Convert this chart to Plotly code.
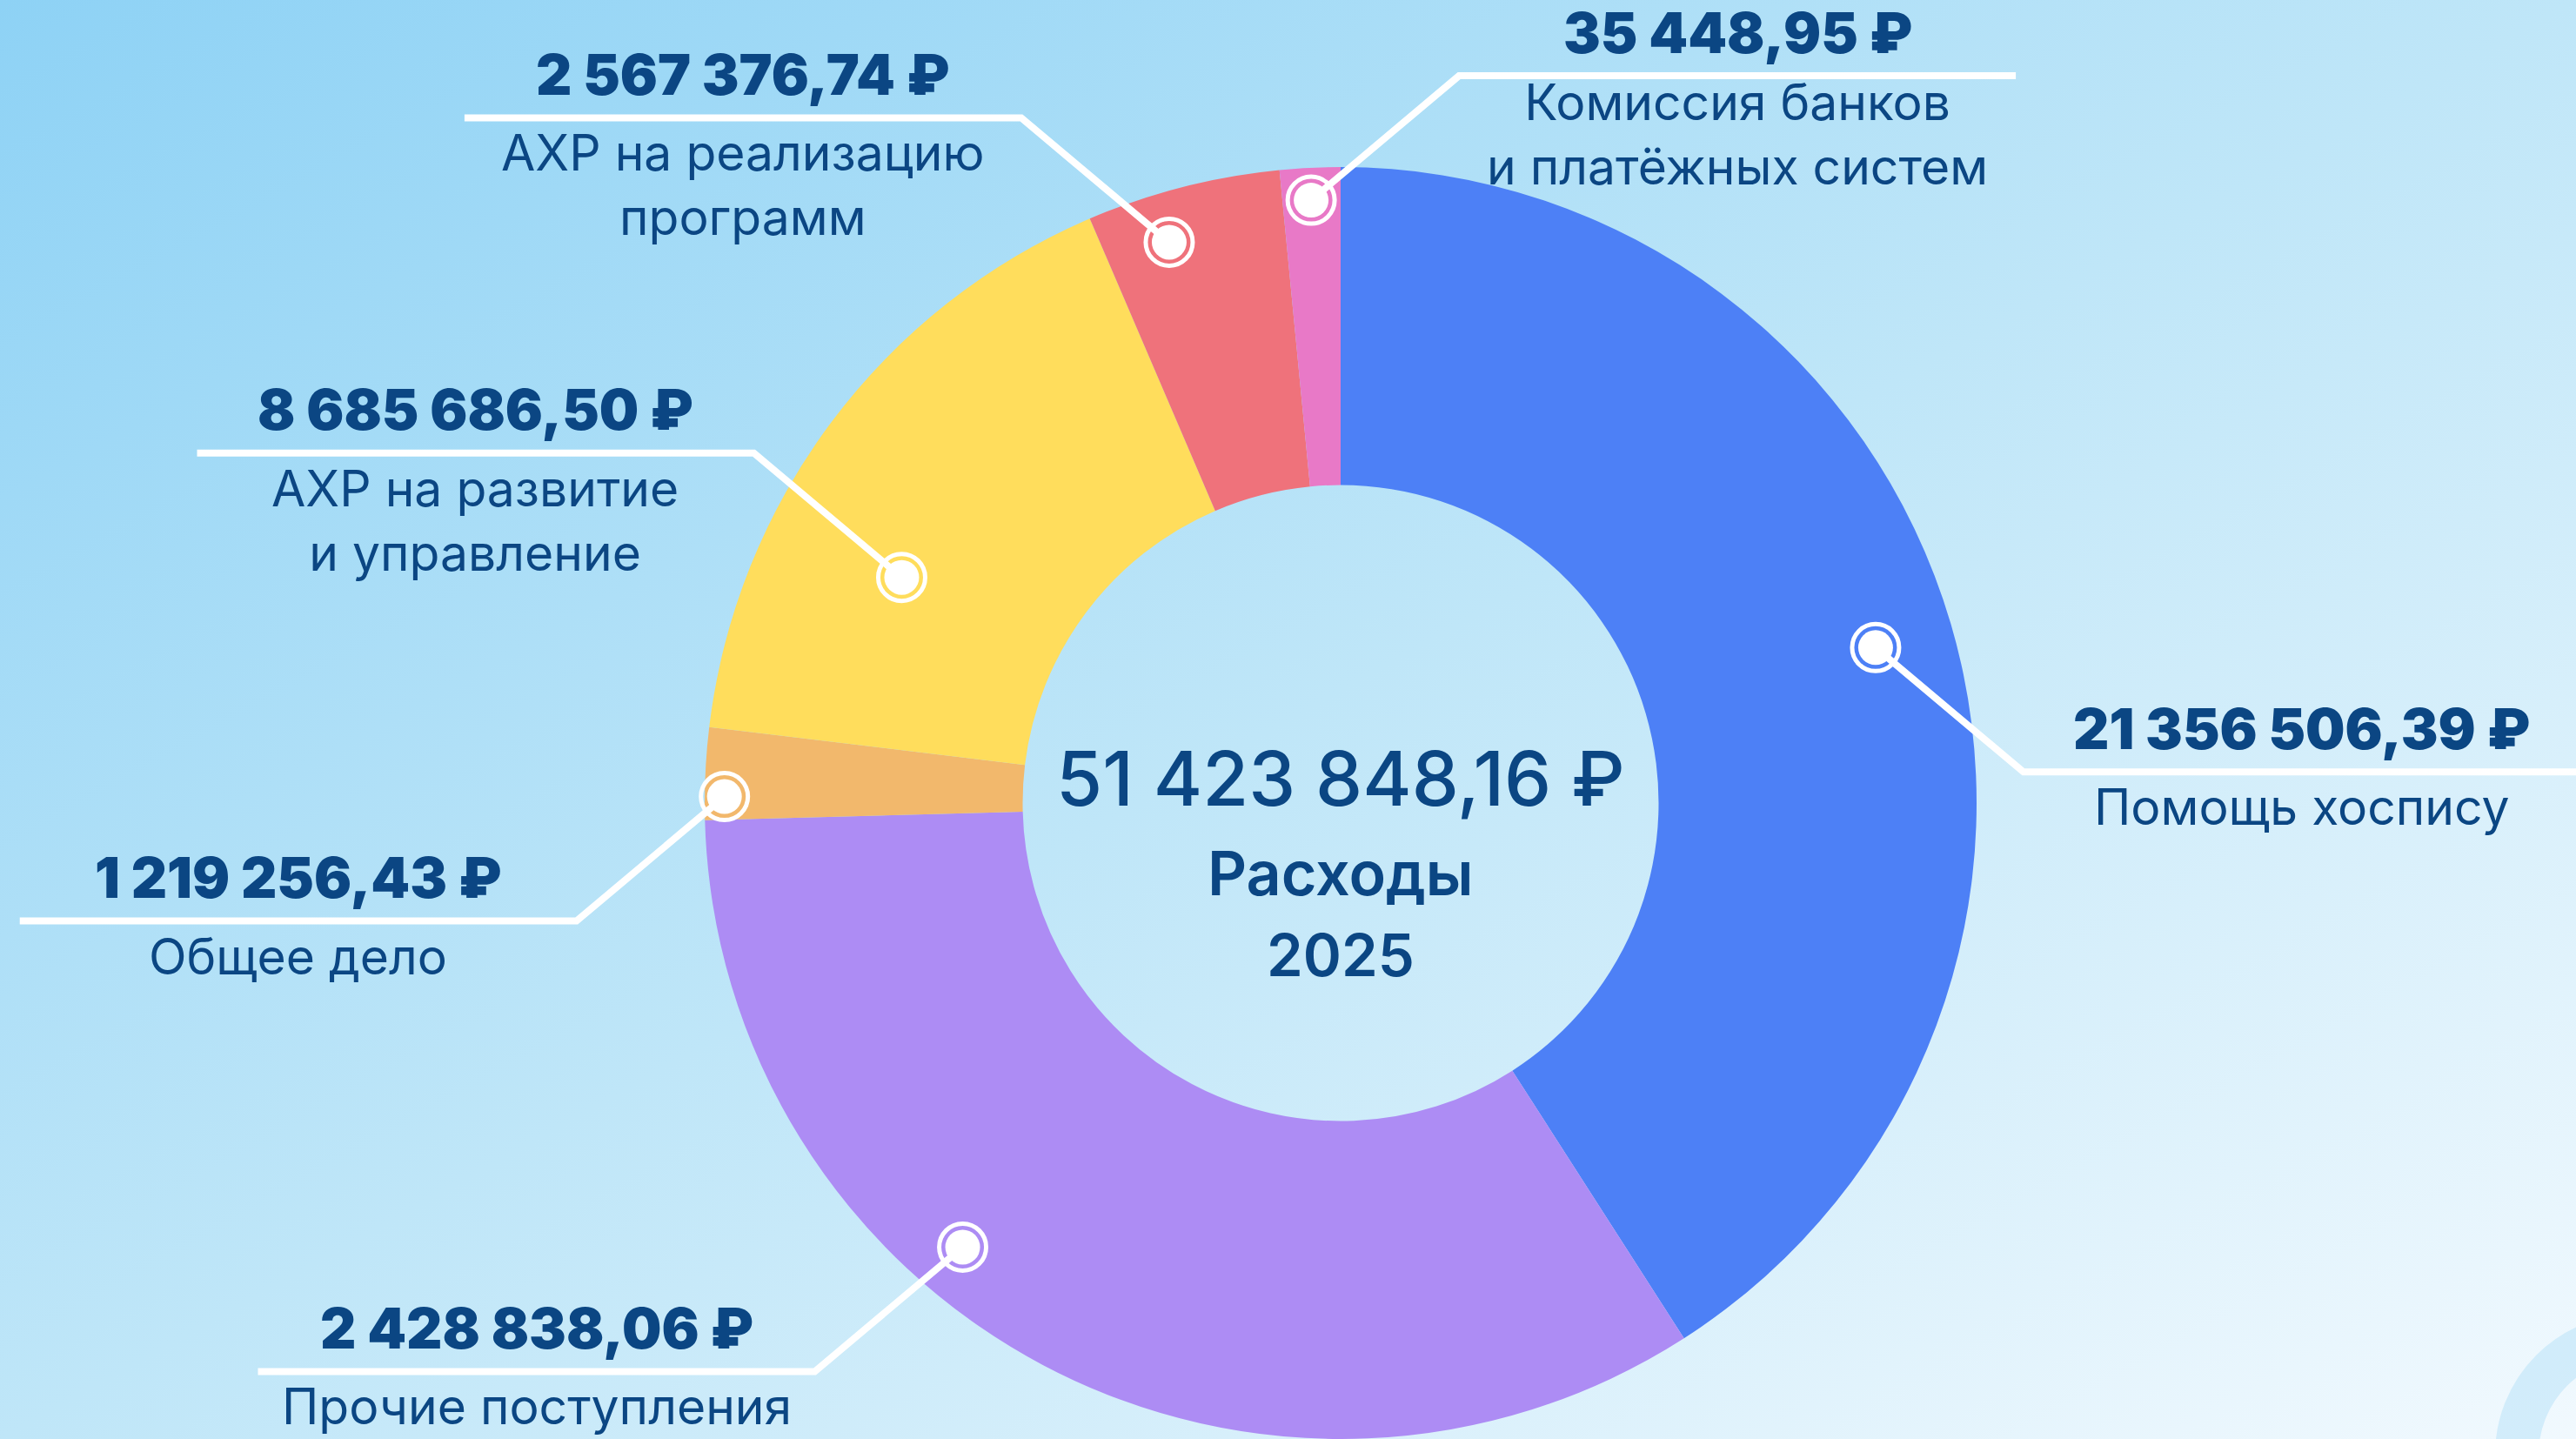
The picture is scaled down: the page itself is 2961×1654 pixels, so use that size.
import math
import base64
import plotly.graph_objects as go

# ---------------- data ----------------
categories = [
    "Помощь хоспису",
    "Прочие поступления",
    "Общее дело",
    "АХР на развитие<br>и управление",
    "АХР на реализацию<br>программ",
    "Комиссия банков<br>и платёжных систем",
]
label_amounts = [21356506.39, 2428838.06, 1219256.43, 8685686.50, 2567376.74, 35448.95]
# slice sizes as drawn in the picture (purple = remainder of total, pink enlarged for visibility)
slice_values = [21356506.39, 17559573.15, 1219256.43, 8685686.50, 2567376.74, 800000.0]
total_amount = 51423848.16
center_title = "Расходы"
center_year = "2025"

# ---------------- style ----------------
colors = ["#4d80f6", "#ad8cf4", "#f2b86c", "#ffdd5c", "#ef727b", "#e879c7"]
TEXT = "#0b4683"
FONT = "Inter, Roboto, 'Open Sans', sans-serif"
W, H = 2961, 1654
R = 731
CX, CY = 1541, H - R

# leader anchors: angle (deg clockwise from top), radius fraction, horizontal side, vertical side
leaders = [
    (73.8, 0.876, 1, 1),
    (220.4, 0.917, -1, 1),
    (270.6, 0.969, -1, 1),
    (297.2, 0.776, -1, -1),
    (343.0, 0.922, -1, -1),
    (357.2, 0.949, 1, -1),
]
DIAG_X, DIAG_Y, SEG = 170, 143, 640


def fmt(v):
    s = f"{v:,.2f}".replace(",", " ").replace(".", ",")
    return s + " ₽"


svg = f"""<svg xmlns='http://www.w3.org/2000/svg' width='{W}' height='{H}' viewBox='0 0 {W} {H}'>
<defs><linearGradient id='g' x1='0' y1='0' x2='1' y2='1'>
<stop offset='0' stop-color='#8ed2f5'/>
<stop offset='0.5' stop-color='#bfe6f8'/>
<stop offset='1' stop-color='#f1f9fe'/>
</linearGradient></defs>
<rect width='{W}' height='{H}' fill='url(#g)'/>
</svg>"""
bg_src = "data:image/svg+xml;base64," + base64.b64encode(svg.encode("utf-8")).decode("ascii")

fig = go.Figure()
fig.add_trace(go.Pie(
    labels=[c.replace("<br>", " ") for c in categories],
    values=slice_values,
    hole=0.5,
    sort=False,
    direction="clockwise",
    rotation=0,
    marker=dict(colors=colors, line=dict(width=0)),
    textinfo="none",
    hoverinfo="label+value",
    showlegend=False,
    domain=dict(x=[(CX - R) / W, (CX + R) / W], y=[0, 2 * R / H]),
))
# invisible trace to create a pixel-space cartesian frame for leader shapes
fig.add_trace(go.Scatter(x=[0, W], y=[0, H], mode="markers", marker=dict(opacity=0),
                         hoverinfo="skip", showlegend=False))

shapes = []
annotations = []
for i, (ang, rf, sx, sy) in enumerate(leaders):
    a = math.radians(ang)
    x0 = CX + rf * R * math.sin(a)
    y0 = CY - rf * R * math.cos(a)
    x1 = x0 + sx * DIAG_X
    y1 = y0 + sy * DIAG_Y
    x2 = x1 + sx * SEG
    shapes.append(dict(type="path", xref="x", yref="y", layer="above",
                       path=f"M {x0:.1f},{y0:.1f} L {x1:.1f},{y1:.1f} L {x2:.1f},{y1:.1f}",
                       line=dict(color="white", width=8)))
    shapes.append(dict(type="circle", xref="x", yref="y", layer="above",
                       x0=x0 - 27, x1=x0 + 27, y0=y0 - 27, y1=y0 + 27,
                       line=dict(color="white", width=5)))
    shapes.append(dict(type="circle", xref="x", yref="y", layer="above",
                       x0=x0 - 20, x1=x0 + 20, y0=y0 - 20, y1=y0 + 20,
                       fillcolor="white", line=dict(color="white", width=0)))
    mx = (x1 + x2) / 2
    cat_gap = -6 if sy < 0 and sx > 0 else 4
    annotations.append(dict(x=mx, y=y1 - 50, xref="x", yref="y", text=fmt(label_amounts[i]),
                            showarrow=False, xanchor="center", yanchor="middle",
                            font=dict(family=FONT, size=64, color=TEXT, weight=900)))
    annotations.append(dict(x=mx, y=y1 + cat_gap, xref="x", yref="y", text=categories[i],
                            showarrow=False, xanchor="center", yanchor="top",
                            font=dict(family=FONT, size=57, color=TEXT, weight=400)))

# decorative faint ring in the corner
shapes.append(dict(type="circle", xref="x", yref="y", layer="below",
                   x0=3030 - 137, x1=3030 + 137, y0=1672 - 137, y1=1672 + 137,
                   line=dict(color="rgba(190,228,248,0.6)", width=50)))

annotations.append(dict(x=CX, y=CY - 28, xref="x", yref="y", text=fmt(total_amount),
                        showarrow=False, xanchor="center", yanchor="middle",
                        font=dict(family=FONT, size=86, color=TEXT, weight=500)))
annotations.append(dict(x=CX, y=CY + 80, xref="x", yref="y", text=center_title,
                        showarrow=False, xanchor="center", yanchor="middle",
                        font=dict(family=FONT, size=70, color=TEXT, weight=600)))
annotations.append(dict(x=CX, y=CY + 174, xref="x", yref="y", text=center_year,
                        showarrow=False, xanchor="center", yanchor="middle",
                        font=dict(family=FONT, size=67, color=TEXT, weight=600)))

fig.update_layout(
    width=W, height=H,
    margin=dict(l=0, r=0, t=0, b=0),
    paper_bgcolor="#bfe6f8",
    plot_bgcolor="rgba(0,0,0,0)",
    xaxis=dict(range=[0, W], visible=False, fixedrange=True, domain=[0, 1]),
    yaxis=dict(range=[H, 0], visible=False, fixedrange=True, domain=[0, 1]),
    images=[dict(source=bg_src, xref="paper", yref="paper", x=0, y=1, sizex=1, sizey=1,
                 xanchor="left", yanchor="top", sizing="stretch", layer="below")],
    shapes=shapes,
    annotations=annotations,
    showlegend=False,
)

fig.write_html("out.html", config={"displayModeBar": False},
               post_script="document.body.style.margin='0px';")
